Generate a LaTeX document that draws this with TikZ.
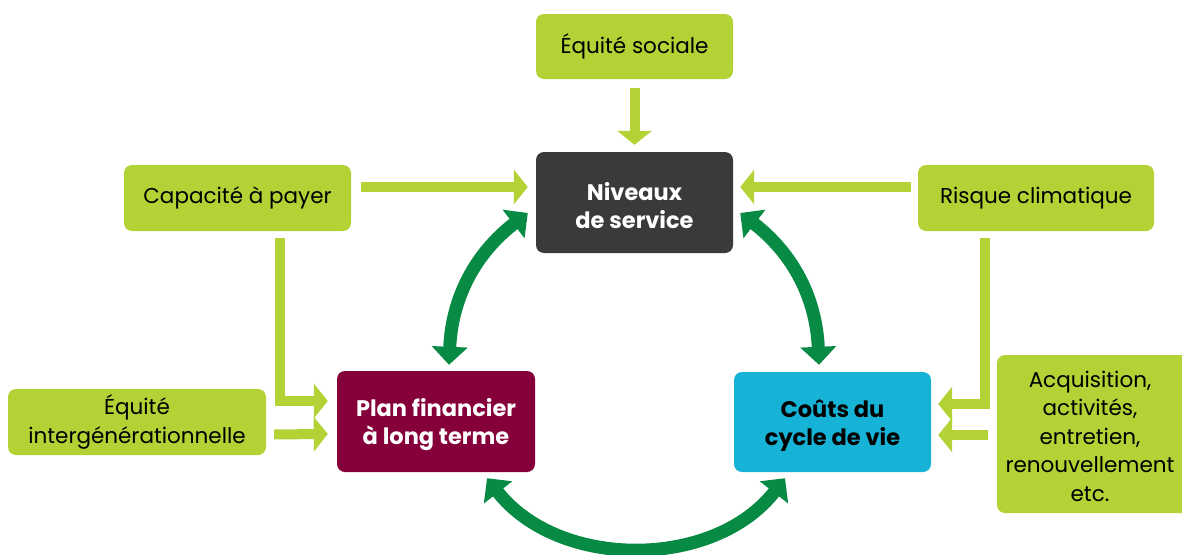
\documentclass[tikz,border=0pt]{standalone}
\usepackage{fontspec}
\setmainfont{Poppins}
\usetikzlibrary{arrows.meta}
\definecolor{lgreen}{HTML}{B2D235}
\definecolor{dgreen}{HTML}{068A44}
\definecolor{nivc}{HTML}{3A3A3A}
\definecolor{planc}{HTML}{85003A}
\definecolor{coutc}{HTML}{17B3D6}
\newcommand{\pushdown}{\rule{0pt}{25pt}}
\begin{document}
\begin{tikzpicture}[x=1pt,y=-1pt,
  box/.style={rectangle, rounded corners=8pt, inner sep=0pt, align=center, font=\fontsize{21.5}{28.5}\selectfont},
  gbox/.style={box, fill=lgreen, text=black},
  mbox/.style={box, font=\bfseries\fontsize{22.5}{28}\selectfont},
  lg/.style={draw=lgreen, line width=10pt, -{Triangle[width=34pt,length=14pt]}},
  dg/.style={draw=dgreen, line width=13pt, {Triangle[width=35pt,length=18pt]}-{Triangle[width=35pt,length=18pt]}},
]
\useasboundingbox (0,0) rectangle (1182,554);

\node[gbox, minimum width=197pt, minimum height=65pt] (soc) at (634.5,46.5) {Équité sociale};
\node[gbox, minimum width=227pt, minimum height=66pt] (cap) at (237.5,198) {\rule{0pt}{17pt}Capacité à payer};
\node[gbox, minimum width=236pt, minimum height=66pt] (risk) at (1036,198) {\rule{0pt}{17pt}Risque climatique};
\node[gbox, minimum width=258pt, minimum height=66pt] (inter) at (137,422) {Équité\\intergénérationnelle};
\node[gbox, minimum width=200pt, minimum height=158pt] (acq) at (1097,434) {};
\node[box, text=black] (acqt) at (1090,436) {Acquisition,\\activités,\\entretien,\\renouvellement\\etc.};

\node[mbox, fill=nivc, text=white, minimum width=197pt, minimum height=101pt] (niv) at (634.5,202.5) {\pushdown Niveaux\\de service};
\node[mbox, fill=planc, text=white, minimum width=198pt, minimum height=101pt] (plan) at (436,421.5) {\pushdown Plan financier\\à long terme};
\node[mbox, fill=coutc, text=black, minimum width=197pt, minimum height=100pt] (couts) at (832.5,422) {\pushdown Coûts du\\cycle de vie};

% light green arrows
\draw[lg, shorten <=9pt, shorten >=7pt] (soc.south) -- (niv.north);
\draw[lg, shorten <=10pt] ([yshift=11pt]cap.east) -- ([xshift=-8pt,yshift=15.5pt]niv.west);
\draw[lg, shorten <=7pt] ([yshift=11pt]risk.west) -- ([xshift=7pt,yshift=15.5pt]niv.east);
\draw[lg] ([xshift=42.5pt,yshift=-7pt]cap.south) |- ([xshift=-9pt,yshift=20.5pt]plan.west);
\draw[lg, shorten <=8pt] ([yshift=-12.5pt]inter.east) -- ([xshift=-9pt,yshift=-12.5pt]plan.west);
\draw[lg] ([xshift=-51pt,yshift=-7pt]risk.south) |- ([xshift=7pt,yshift=18pt]couts.east);
\draw[lg, shorten <=9pt] ([yshift=-1pt]acq.west) -- ([xshift=7pt,yshift=-13pt]couts.east);

% dark green double arrows
\draw[dg] ([xshift=-8pt,yshift=-10.5pt]niv.west) to[bend right=25] ([xshift=13pt,yshift=6pt]plan.north);
\draw[dg] ([xshift=7pt,yshift=-10.5pt]niv.east) to[bend left=25] ([xshift=-13.5pt,yshift=7pt]couts.north);
\draw[dg] ([xshift=51pt,yshift=-6pt]plan.south) to[bend right=52] ([xshift=-47.5pt,yshift=-6pt]couts.south);
\end{tikzpicture}
\end{document}
